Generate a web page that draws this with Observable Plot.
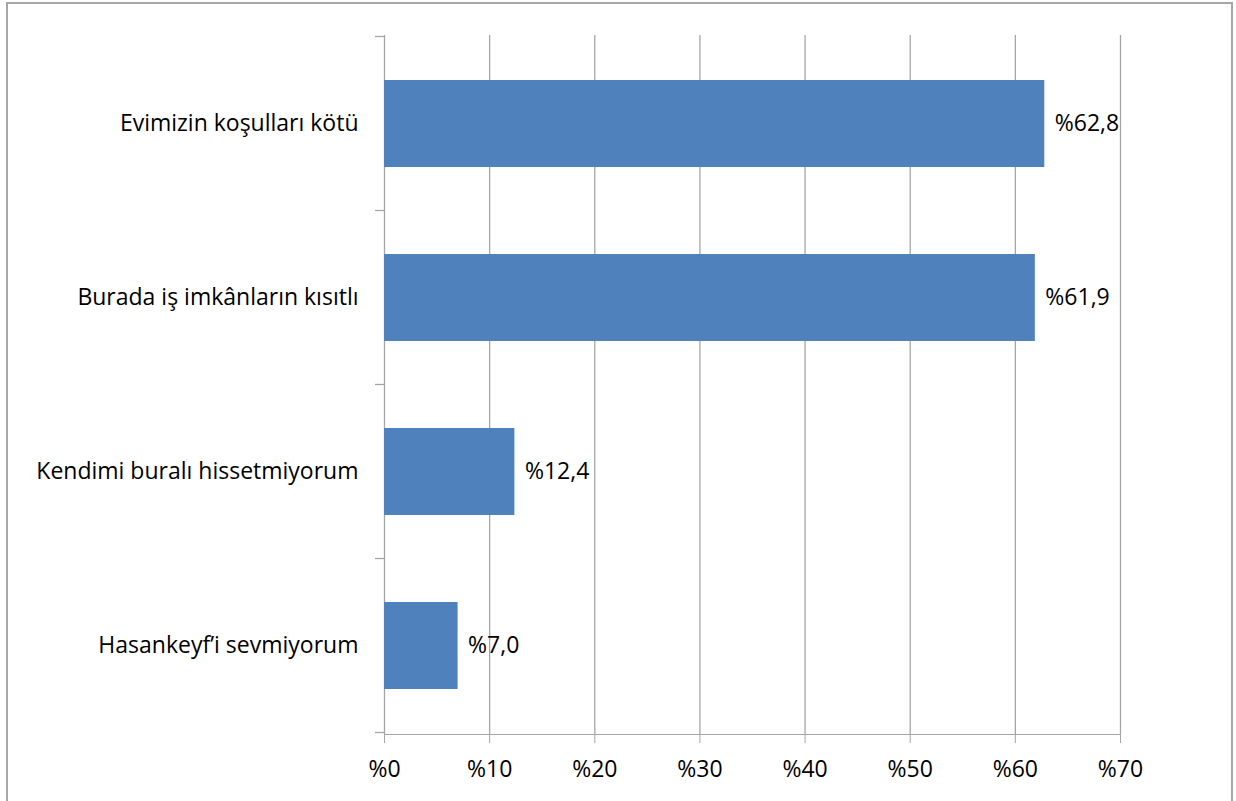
<!DOCTYPE html>
<html>
<head>
<meta charset="utf-8">
<script src="https://cdn.jsdelivr.net/npm/d3@7"></script>
<script src="https://cdn.jsdelivr.net/npm/@observablehq/plot@0.6"></script>
<style>
  html, body { margin: 0; padding: 0; background: #fff; }
  #wrap { position: relative; width: 1236px; height: 801px; overflow: hidden; }
  #frame { position: absolute; left: 6px; top: 2px; width: 1227px; height: 820px;
           border-left: 2px solid #a6a6a6; border-top: 2px solid #a6a6a6; border-right: 2px solid #a6a6a6; box-sizing: border-box; }
  #chart { position: absolute; left: 0; top: 0; }
  #chart svg text { fill: #000; }
</style>
</head>
<body>
<div id="wrap"><div id="frame"></div><div id="chart"></div></div>
<script>
const categories = ["Evimizin koşulları kötü", "Burada iş imkânların kısıtlı", "Kendimi buralı hissetmiyorum", "Hasankeyf’i sevmiyorum"];
const values = [62.8, 61.9, 12.4, 7.0];
const xTicks = [0, 10, 20, 30, 40, 50, 60, 70];

const data = categories.map((c, i) => ({cat: c, value: values[i]}));
const fmtPct = v => "%" + v.toFixed(1).replace(".", ",");
const gray = "#a6a6a6";

function boundaryTicks(index, scales, values, dimensions) {
  const y = scales.y;
  const g = d3.create("svg:g").attr("stroke", gray).attr("stroke-width", 1.3);
  const step = y.step(), bw = y.bandwidth();
  const half = (step - bw) / 2;
  const pos = categories.map(c => y(c) - half);
  pos.push(y(categories[categories.length - 1]) + bw + half);
  const x2 = dimensions.marginLeft;
  for (const p of pos) {
    g.append("line").attr("x1", x2 - 9).attr("x2", x2).attr("y1", p).attr("y2", p);
  }
  return g.node();
}

const plot = Plot.plot({
  width: 1236,
  height: 801,
  marginLeft: 384,
  marginRight: 116,
  marginTop: 35,
  marginBottom: 67,
  style: {fontFamily: "'Open Sans', sans-serif", fontSize: "23px", color: gray, background: "transparent", overflow: "visible"},
  x: {domain: [0, 70], ticks: xTicks, tickFormat: d => "%" + d, tickSize: 9, tickPadding: 17, line: true, label: null},
  y: {domain: categories, paddingInner: 0.5, paddingOuter: 0.25, tickSize: 0, tickPadding: 26, line: true, label: null},
  marks: [
    Plot.ruleX(xTicks, {x: d => d, stroke: gray, strokeWidth: 1.3}),
    Plot.barX(data, {x: "value", y: "cat", fill: "#4F81BD"}),
    Plot.text(data, {x: "value", y: "cat", text: d => fmtPct(d.value), textAnchor: "start", dx: 10, fill: "#000", fontSize: 23}),
    boundaryTicks
  ]
});
document.getElementById("chart").appendChild(plot);
d3.select(plot).selectAll("[aria-label^='x-axis'] line, [aria-label^='y-axis'] line, [aria-label^='x-axis'] path, [aria-label^='y-axis'] path").attr("stroke", gray);
</script>
</body>
</html>
